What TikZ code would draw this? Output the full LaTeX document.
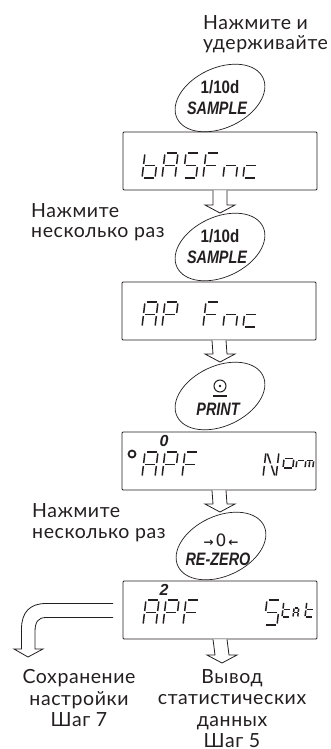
\documentclass[tikz,border=0pt]{standalone}
\usepackage{fontspec}
\setmainfont{Lato}[LetterSpace=3]
\newfontfamily\keyfont{Liberation Sans}
\newfontfamily\symfont{DejaVu Sans}
\usetikzlibrary{calc,shapes.geometric}
\definecolor{ink}{HTML}{231F20}
\tikzset{
  note/.style={font=\fontsize{19.5}{21.3}\selectfont,text=ink,inner sep=0pt},
  dispbox/.style={draw=ink,line width=.8pt,rounded corners=1pt,minimum width=194pt,minimum height=58pt,inner sep=0pt},
  keyoval/.style={draw=ink,line width=.7pt,ellipse,rotate=25,minimum width=95pt,minimum height=60pt,inner sep=0pt},
  keytop/.style={font=\keyfont\bfseries\fontsize{18}{18}\selectfont,text=ink,inner sep=0pt,xscale=.84,transform shape},
  keylow/.style={font=\keyfont\bfseries\itshape\fontsize{18}{18}\selectfont,text=ink,inner sep=0pt,xscale=.8,transform shape},
  flag/.style={font=\keyfont\bfseries\itshape\fontsize{16}{16}\selectfont,text=ink,inner sep=0pt},
  seg/.style={draw=ink,line width=1.5pt},
  hollow/.style={draw=ink,line width=.8pt,fill=white,line join=miter},
}
% segments of one display character
\newcommand{\segA}{\draw[seg] (1.5,25)--(11.5,25);}
\newcommand{\segB}{\draw[seg] (13,23.5)--(13,14);}
\newcommand{\segC}{\draw[seg] (13,11)--(13,1.5);}
\newcommand{\segD}{\draw[seg] (1.5,0)--(11.5,0);}
\newcommand{\segE}{\draw[seg] (0,11)--(0,1.5);}
\newcommand{\segF}{\draw[seg] (0,23.5)--(0,14);}
\newcommand{\segG}{\draw[seg] (1.5,12.5)--(11.5,12.5);}
\newcommand{\segH}{\draw[seg] (1.5,23.5)--(6,13.5);}
\newcommand{\segI}{\draw[seg] (7,11.5)--(11.5,1.5);}
\newcommand{\segJ}{\draw[seg] (6.5,11)--(6.5,1.5);}
\newcommand{\lcdb}{F,E,G,C,D}
\newcommand{\lcdA}{A,B,C,E,F,G}
\newcommand{\lcdS}{A,F,G,C,D}
\newcommand{\lcdF}{A,F,G,E}
\newcommand{\lcdP}{A,B,G,E,F}
\newcommand{\lcdn}{E,G,C}
\newcommand{\lcdc}{G,E,D}
\newcommand{\lcdN}{F,E,B,C,H,I}
\newcommand{\lcdo}{G,E,C,D}
\newcommand{\lcdr}{G,E}
\newcommand{\lcdm}{E,G,C,J}
\newcommand{\lcdt}{F,E,G,D}
\newcommand{\lcdchar}[4]{%
  \begin{scope}[shift={(#1,#2)},x=#3pt,y=#3pt,xslant=.12]
    \foreach \s in #4 {\csname seg\s\endcsname}
  \end{scope}}
\newcommand{\blockarrow}[2]{%
  \draw[hollow] ($(#1)+(-7,0)$)--($(#2)+(-7,-8)$)--($(#2)+(-15,-8)$)--(#2)
    --($(#2)+(15,-8)$)--($(#2)+(7,-8)$)--($(#1)+(7,0)$);}

\begin{document}
\begin{tikzpicture}[x=1pt,y=-1pt]
  \useasboundingbox (0,0) rectangle (330,749);
  \fill[white] (0,0) rectangle (330,749);

  \node[note,anchor=base west] (holdtxt) at (203,30) {Нажмите и};
  \node[note,anchor=base west] (holdtxtb) at (203,50) {удерживайте};
  \node[note,anchor=base west] (reptxt) at (31,217) {Нажмите};
  \node[note,anchor=base west] (reptxtb) at (31,237) {несколько раз};
  \node[note,anchor=base west] (zerotxt) at (32,517) {Нажмите};
  \node[note,anchor=base west] (zerotxtb) at (32,538) {несколько раз};

  % keys
  \node[keyoval] (samplea) at (220,98) {};
  \node[keytop] (sampleat) at (220,87) {1/10d};
  \node[keylow] (sampleal) at (217,108) {SAMPLE};
  \node[keyoval] (sampleb) at (220,247) {};
  \node[keytop] (samplebt) at (220,236) {1/10d};
  \node[keylow] (samplebl) at (217,257) {SAMPLE};
  \node[keyoval] (print) at (220,396) {};
  \node[draw=ink,circle,line width=1pt,minimum size=12pt,inner sep=0pt] (printicon) at (220,386) {};
  \fill[ink] (printicon.center) circle (1.4);
  \draw[ink,line width=1.2pt] (213,396)--(227,396);
  \node[keylow] (printl) at (218,409) {PRINT};
  \node[keyoval] (rezero) at (221,546) {};
  \node[font=\symfont\bfseries\fontsize{12}{12}\selectfont,text=ink,inner sep=0pt] (rezerot) at (221,540) {→\,{\mdseries\fontsize{17}{17}\selectfont 0}\,←};
  \node[keylow] (rezerol) at (218,559) {RE-ZERO};

  % displays
  \node[dispbox] (dispa) at (220,161) {};
  \node[dispbox] (dispb) at (219,311) {};
  \node[dispbox] (dispc) at (219,461) {};
  \node[dispbox] (dispd) at (220,610) {};

  \lcdchar{142}{178}{1}{\lcdb}
  \lcdchar{162}{178}{1}{\lcdA}
  \lcdchar{183}{178}{1}{\lcdS}
  \lcdchar{203}{178}{1}{\lcdF}
  \lcdchar{223}{178}{1}{\lcdn}
  \lcdchar{243}{178}{1}{\lcdc}

  \lcdchar{142}{327}{1}{\lcdA}
  \lcdchar{162}{327}{1}{\lcdP}
  \lcdchar{203}{327}{1}{\lcdF}
  \lcdchar{223}{327}{1}{\lcdn}
  \lcdchar{243}{327}{1}{\lcdc}

  \lcdchar{142}{477}{1}{\lcdA}
  \lcdchar{162}{477}{1}{\lcdP}
  \lcdchar{182}{477}{1}{\lcdF}
  \lcdchar{263}{477}{1}{\lcdN}
  \lcdchar{283}{468}{.75}{\lcdo}
  \lcdchar{296}{468}{.6}{\lcdr}
  \lcdchar{305}{468}{.6}{\lcdm}
  \node[draw=ink,circle,line width=1.8pt,minimum size=7pt,inner sep=0pt] (stable) at (132,454) {};
  \node[flag] (digitzero) at (164,441) {0};

  \lcdchar{143}{625}{1}{\lcdA}
  \lcdchar{163}{625}{1}{\lcdP}
  \lcdchar{183}{625}{1}{\lcdF}
  \lcdchar{264}{625}{1}{\lcdS}
  \lcdchar{282}{617}{.6}{\lcdt}
  \lcdchar{293}{617}{.36}{\lcdA}
  \lcdchar{305}{617}{.6}{\lcdt}
  \node[flag] (digittwo) at (164,590) {2};

  % arrows
  \coordinate (tipb) at (220,213);
  \coordinate (tipc) at (220,362);
  \coordinate (tipd) at (220,512);
  \coordinate (tipe) at (222,663);
  \blockarrow{dispa.south}{tipb}
  \blockarrow{dispb.south}{tipc}
  \blockarrow{dispc.south}{tipd}
  \blockarrow{dispd.south}{tipe}

  \coordinate (saveout) at (113,603.5);
  \coordinate (savein) at (113,617.5);
  \coordinate (savetip) at (28,657);
  \draw[hollow,fill=none] (saveout)--(46,603.5) .. controls (30,603.5) and (21.5,612) .. (21.5,629)
    --(21.5,649)--(14,649)--(savetip)--(43,649)--(35,649)--(35,632)
    .. controls (35,622) and (38,617.5) .. (46,617.5)--(savein);

  \node[note,align=center,anchor=north] (savetxt) at (79,669.5) {Сохранение\\настройки\\Шаг 7};
  \node[note,align=center,anchor=north] (outtxt) at (232,669.5) {Вывод\\статистических\\данных\\Шаг 5};
\end{tikzpicture}
\end{document}
